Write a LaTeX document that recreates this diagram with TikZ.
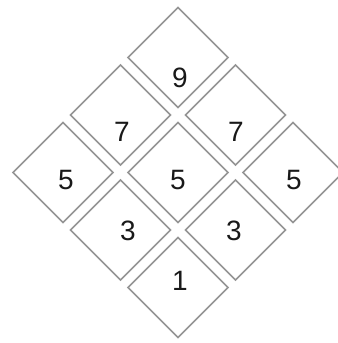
\documentclass[tikz,border=0pt]{standalone}
\usepackage{fontspec}
\setmainfont{Liberation Sans}
\usepackage{tikz}
\usetikzlibrary{shapes.geometric,positioning}
\definecolor{cellline}{HTML}{959595}

\begin{document}
\begin{tikzpicture}[
  cell/.style={draw=cellline,line width=1.1pt,diamond,aspect=1,inner sep=0pt,
               minimum width=75.5pt,minimum height=75.5pt},
  num/.style={inner sep=0pt,font=\fontsize{21}{25}\selectfont,text=black!90},
  x=0.75pt, y=-0.75pt
]
\useasboundingbox (0,0) rectangle (337,343);

% --- diamonds, top to bottom ---
\node[cell] (top)    at (178,57.5)  {};
\node[cell] (leftA)  at (120.5,115) {};
\node[cell] (rightA) at (235.5,115) {};
\node[cell] (leftB)  at (63,172.5)  {};
\node[cell] (mid)    at (178,172.5) {};
\node[cell] (rightB) at (293,172.5) {};
\node[cell] (leftC)  at (120.5,230) {};
\node[cell] (rightC) at (235.5,230) {};
\node[cell] (bottom) at (178,287.5) {};

% --- numbers, a bit off centre ---
\node[num] (ntop)    at (180,78)  {9};
\node[num] (nleftA)  at (122,132) {7};
\node[num] (nrightA) at (236,132) {7};
\node[num] (nleftB)  at (66,180)  {5};
\node[num] (nmid)    at (178,180) {5};
\node[num] (nrightB) at (294,180) {5};
\node[num] (nleftC)  at (128,231) {3};
\node[num] (nrightC) at (234,231) {3};
\node[num] (nbottom) at (180,281) {1};
\end{tikzpicture}
\end{document}
